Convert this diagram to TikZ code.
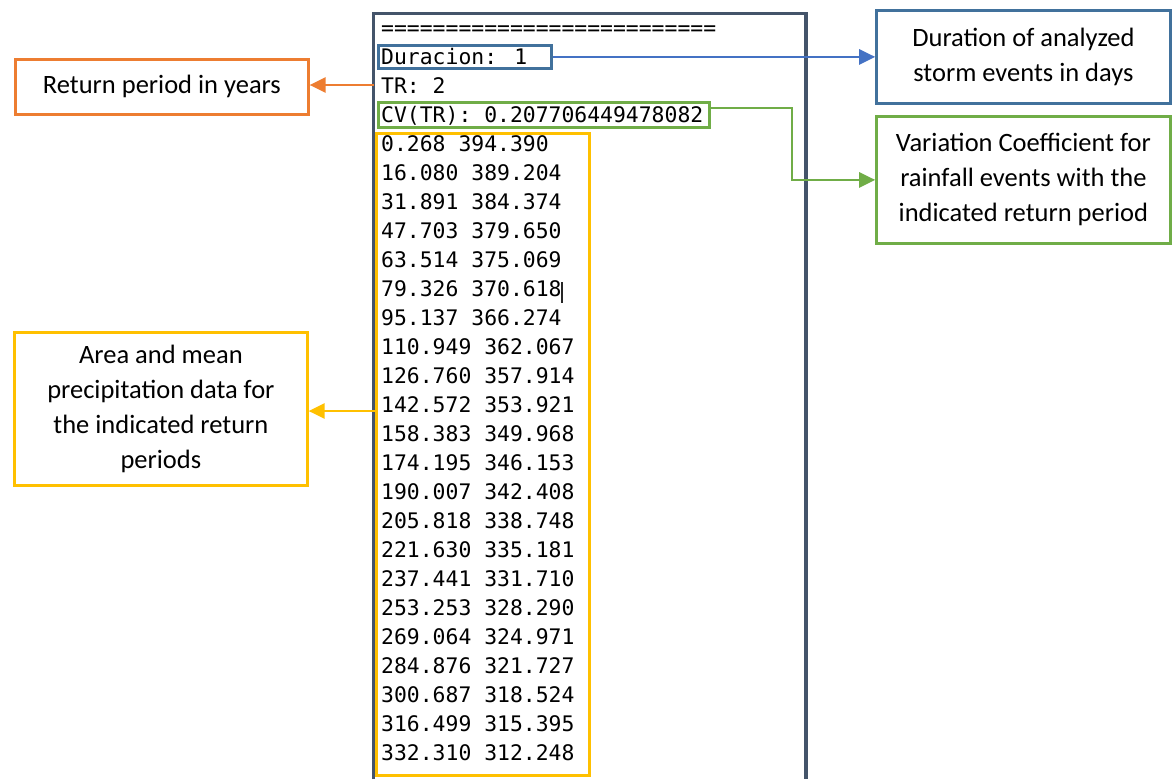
\documentclass[tikz,border=0pt]{standalone}
\usepackage{fontspec}
\setmainfont{Carlito}
\newfontfamily\consolefont{DejaVu Sans Mono}
\usetikzlibrary{arrows.meta,calc}

\definecolor{panelgray}{HTML}{44546A}
\definecolor{noteorange}{HTML}{ED7D31}
\definecolor{noteblue}{HTML}{41719C}
\definecolor{arrowblue}{HTML}{4472C4}
\definecolor{notegreen}{HTML}{70AD47}
\definecolor{noteyellow}{HTML}{FFC000}

\begin{document}
\begin{tikzpicture}[x=1pt,y=-1pt,
  note/.style={draw, line width=2.8pt, fill=white, align=center, inner sep=0pt,
    anchor=north west, text=black, font=\fontsize{26.5}{35}\selectfont},
  mark box/.style={draw, line width=2.8pt, inner sep=0pt, anchor=north west},
  consoleline/.style={anchor=base west, inner sep=0pt, text=black,
    font=\consolefont\fontsize{21.4}{29}\selectfont},
  pointer/.style={line width=2.6pt, -{Triangle[length=16pt,width=15pt]}}]

\useasboundingbox (0,0) rectangle (1172,779);

% console window frame, open at the bottom
\draw[panelgray, line width=3.4pt] (373.5,779) -- (373.5,13.5) -- (806,13.5) -- (806,779);

% console output
\node[consoleline] (sep) at (381,35.7) {==========================};
\node[consoleline] (durtxt) at (381,64.7) {Duracion: 1};
\node[consoleline] (trtxt) at (381,93.7) {TR: 2};
\node[consoleline] (cvtxt) at (381,122.7) {CV(TR): 0.207706449478082};
\foreach \t [count=\i from 0] in {0.268 394.390, 16.080 389.204, 31.891 384.374,
  47.703 379.650, 63.514 375.069, 79.326 370.618, 95.137 366.274,
  110.949 362.067, 126.760 357.914, 142.572 353.921, 158.383 349.968,
  174.195 346.153, 190.007 342.408, 205.818 338.748, 221.630 335.181,
  237.441 331.710, 253.253 328.290, 269.064 324.971, 284.876 321.727,
  300.687 318.524, 316.499 315.395, 332.310 312.248}
  \node[consoleline] (row\i) at (381,151.7+29*\i) {\t};

% text cursor
\draw[black!85, line width=1.4pt] (562,282) -- (562,303);

% highlighted regions
\node[mark box, draw=noteblue, minimum width=172.6pt, minimum height=22.6pt] (dur) at (377.2,44.2) {};
\node[mark box, draw=notegreen, minimum width=330.6pt, minimum height=24.6pt] (cv) at (377.2,101.2) {};
\node[mark box, draw=noteyellow, minimum width=212.6pt, minimum height=641.6pt] (data) at (375.2,132.2) {};

% explanatory notes
\node[note, draw=noteorange, minimum width=292.6pt, minimum height=54.6pt] (ret) at (14.2,58.2)
  {Return period in years};
\node[note, draw=noteblue, minimum width=293.6pt, minimum height=92.6pt] (durnote) at (875.2,9.2)
  {Duration of analyzed\\storm events in days};
\node[note, draw=notegreen, minimum width=293.6pt, minimum height=126.6pt] (cvnote) at (875.2,115.2)
  {Variation Coefficient for\\rainfall events with the\\indicated return period};
\node[note, draw=noteyellow, minimum width=292.6pt, minimum height=152.6pt] (area) at (13.2,331.2)
  {Area and mean\\precipitation data for\\the indicated return\\periods};

% connectors
\coordinate (trout) at (373.5,85);
\coordinate (cvout) at (707.8,108);
\coordinate (cvbend) at (792,108);
\coordinate (dataout) at (375.2,411);

\draw[pointer, noteorange] (trout) -- (ret.east |- trout);
\draw[pointer, arrowblue] (dur.east) -- (durnote.west |- dur.east);
\draw[pointer, notegreen] (cvout) -- (cvbend) |- (cvnote.west);
\draw[pointer, noteyellow] (dataout) -- (area.east |- dataout);
\end{tikzpicture}
\end{document}
